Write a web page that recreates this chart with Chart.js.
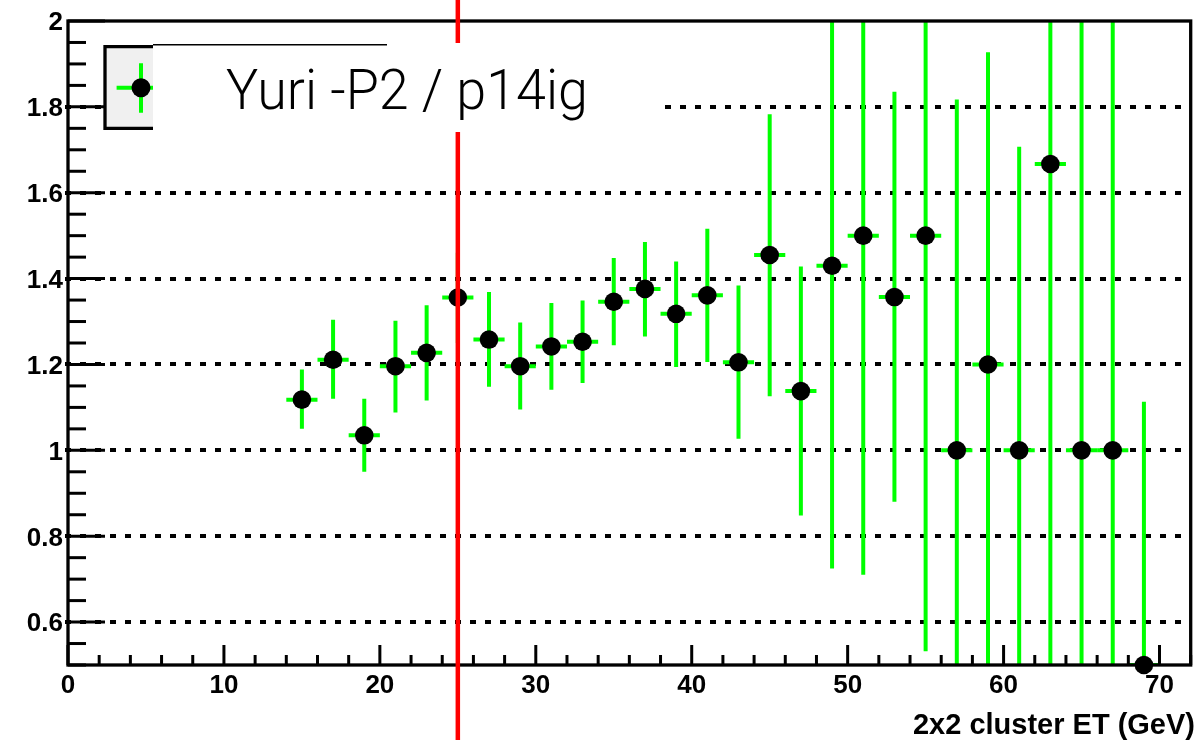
<!DOCTYPE html>
<html>
<head>
<meta charset="utf-8">
<script src="https://cdn.jsdelivr.net/npm/chart.js@4/dist/chart.umd.min.js"></script>
<style>
  html, body { margin: 0; padding: 0; background: #ffffff; }
  #wrap { width: 1200px; height: 740px; }
</style>
</head>
<body>
<div id="wrap"><canvas id="c" width="1200" height="740"></canvas></div>
<script>
// ---- data ----
const binCenters = [15, 17, 19, 21, 23, 25, 27, 29, 31, 33, 35, 37, 39, 41, 43, 45, 47, 49, 51, 53, 55, 57, 59, 61, 63, 65, 67, 69];
const ratioValues = [1.118, 1.211, 1.035, 1.196, 1.227, 1.356, 1.258, 1.196, 1.242, 1.253, 1.346, 1.376, 1.318, 1.361, 1.205, 1.455, 1.138, 1.430, 1.500, 1.357, 1.500, 1.000, 1.200, 1.000, 1.667, 1.000, 1.000, 0.500];
const errLow  = [1.050, 1.120, 0.950, 1.088, 1.116, 1.250, 1.148, 1.095, 1.141, 1.157, 1.245, 1.265, 1.194, 1.206, 1.027, 1.126, 0.848, 0.725, 0.710, 0.880, 0.532, 0.183, 0.473, 0.293, 0.330, -0.20, -0.20, -0.113];
const errHigh = [1.188, 1.304, 1.120, 1.302, 1.338, 1.460, 1.369, 1.298, 1.343, 1.349, 1.448, 1.485, 1.440, 1.516, 1.384, 1.783, 1.428, 2.140, 2.290, 1.835, 2.470, 1.817, 1.927, 1.707, 3.000, 2.200, 2.200, 1.113];
const binHalfWidth = 1;
const xTickValues = [0, 10, 20, 30, 40, 50, 60, 70];
const xTickLabels = ['0', '10', '20', '30', '40', '50', '60', '70'];
const yTickValues = [0.6, 0.8, 1.0, 1.2, 1.4, 1.6, 1.8, 2.0];
const yTickLabels = ['0.6', '0.8', '1', '1.2', '1.4', '1.6', '1.8', '2'];
const cutLineX = 25;
const xTitle = '2x2 cluster ET (GeV)';
const legendLabel = 'Yuri -P2 / p14ig';

const GREEN = '#00ff00';
const TICK_FONT = "bold 26px 'Liberation Sans', Arial, sans-serif";

const points = binCenters.map((x, i) => ({ x: x, y: ratioValues[i] }));

const rootStyle = {
  id: 'rootStyle',
  beforeDraw(chart) {
    const ctx = chart.ctx;
    ctx.save();
    ctx.fillStyle = '#ffffff';
    ctx.fillRect(0, 0, chart.width, chart.height);
    ctx.restore();
  },
  beforeDatasetsDraw(chart) {
    const ctx = chart.ctx, a = chart.chartArea;
    const xs = chart.scales.x, ys = chart.scales.y;
    ctx.save();
    // dotted horizontal grid
    ctx.strokeStyle = '#000000';
    ctx.lineWidth = 4;
    ctx.setLineDash([6, 9]);
    yTickValues.forEach(v => {
      if (v >= 2) return;
      const py = Math.round(ys.getPixelForValue(v));
      ctx.beginPath();
      ctx.moveTo(a.left - 3, py);
      ctx.lineTo(a.right, py);
      ctx.stroke();
    });
    ctx.setLineDash([]);
    // error bars (clipped to the frame)
    ctx.beginPath();
    ctx.rect(a.left, a.top, a.right - a.left, a.bottom - a.top);
    ctx.clip();
    ctx.strokeStyle = GREEN;
    ctx.lineWidth = 4;
    binCenters.forEach((x, i) => {
      const px = xs.getPixelForValue(x);
      const py = ys.getPixelForValue(ratioValues[i]);
      ctx.beginPath();
      ctx.moveTo(px, ys.getPixelForValue(errLow[i]));
      ctx.lineTo(px, ys.getPixelForValue(errHigh[i]));
      ctx.moveTo(xs.getPixelForValue(x - binHalfWidth), py);
      ctx.lineTo(xs.getPixelForValue(x + binHalfWidth), py);
      ctx.stroke();
    });
    ctx.restore();
  },
  afterDatasetsDraw(chart) {
    const ctx = chart.ctx, a = chart.chartArea;
    const xs = chart.scales.x, ys = chart.scales.y;
    ctx.save();
    // frame
    ctx.strokeStyle = '#000000';
    ctx.lineWidth = 3.3;
    ctx.strokeRect(a.left, a.top, a.right - a.left, a.bottom - a.top);
    // x ticks
    ctx.lineWidth = 3;
    for (let v = 0; v <= 72; v += 2) {
      const px = xs.getPixelForValue(v);
      const len = (v % 10 === 0) ? 20 : 10;
      ctx.beginPath();
      ctx.moveTo(px, a.bottom);
      ctx.lineTo(px, a.bottom - len);
      ctx.stroke();
    }
    // y ticks
    for (let k = 0; k <= 30; k++) {
      const v = 0.5 + k * 0.05;
      const py = ys.getPixelForValue(v);
      const major = (k % 4 === 2);
      ctx.beginPath();
      ctx.moveTo(a.left, py);
      ctx.lineTo(a.left + (major ? 37 : 18), py);
      ctx.stroke();
    }
    // labels
    ctx.fillStyle = '#000000';
    ctx.font = TICK_FONT;
    ctx.textBaseline = 'alphabetic';
    ctx.textAlign = 'center';
    xTickValues.forEach((v, i) => {
      ctx.fillText(xTickLabels[i], xs.getPixelForValue(v), 692.5);
    });
    ctx.textAlign = 'right';
    yTickValues.forEach((v, i) => {
      ctx.fillText(yTickLabels[i], a.left - 5, ys.getPixelForValue(v) + 9.3);
    });
    ctx.font = "bold 29px 'Liberation Sans', Arial, sans-serif";
    ctx.textAlign = 'right';
    ctx.fillText(xTitle, 1195, 733.5);
    // red cut line
    ctx.strokeStyle = '#ff0000';
    ctx.lineWidth = 4.5;
    const rx = xs.getPixelForValue(cutLineX);
    ctx.beginPath();
    ctx.moveTo(rx, 0);
    ctx.lineTo(rx, chart.height);
    ctx.stroke();
    // legend
    ctx.fillStyle = '#ffffff';
    ctx.fillRect(153, 43, 660 - 153, 132 - 43);
    ctx.fillStyle = '#f0f0f0';
    ctx.fillRect(105, 46.7, 48, 81.6);
    ctx.strokeStyle = GREEN;
    ctx.lineWidth = 4;
    ctx.beginPath();
    ctx.moveTo(116.6, 87.7); ctx.lineTo(153, 87.7);
    ctx.moveTo(141, 63.3); ctx.lineTo(141, 112.7);
    ctx.stroke();
    ctx.fillStyle = '#000000';
    ctx.beginPath();
    ctx.arc(141, 87.7, 9.5, 0, Math.PI * 2);
    ctx.fill();
    ctx.strokeStyle = '#000000';
    ctx.lineWidth = 3.3;
    ctx.beginPath();
    ctx.moveTo(153, 46.7); ctx.lineTo(105, 46.7); ctx.lineTo(105, 128.3); ctx.lineTo(153, 128.3);
    ctx.stroke();
    ctx.lineWidth = 1.5;
    ctx.beginPath();
    ctx.moveTo(153, 44.7); ctx.lineTo(387, 44.7);
    ctx.stroke();
    // legend text, fitted to the reference's width
    ctx.font = "300 55px Roboto, 'Open Sans', Lato, sans-serif";
    ctx.textAlign = 'left';
    ctx.textBaseline = 'alphabetic';
    const w = ctx.measureText(legendLabel).width;
    const sx = 362 / w;
    ctx.translate(226, 109.3);
    ctx.scale(sx, 1);
    ctx.fillText(legendLabel, 0, 0);
    ctx.restore();
  }
};

new Chart(document.getElementById('c'), {
  type: 'scatter',
  data: {
    datasets: [{
      label: legendLabel,
      data: points,
      pointRadius: 9.3,
      pointHoverRadius: 9.3,
      pointBackgroundColor: '#000000',
      pointBorderWidth: 0,
      showLine: false,
      clip: false
    }]
  },
  options: {
    responsive: false,
    animation: false,
    devicePixelRatio: 1,
    layout: { padding: { left: 68, top: 21, right: 4, bottom: 75 } },
    scales: {
      x: { type: 'linear', min: 0, max: 72, display: false },
      y: { type: 'linear', min: 0.5, max: 2, display: false }
    },
    plugins: { legend: { display: false }, tooltip: { enabled: false } },
    events: []
  },
  plugins: [rootStyle]
});
</script>
</body>
</html>
